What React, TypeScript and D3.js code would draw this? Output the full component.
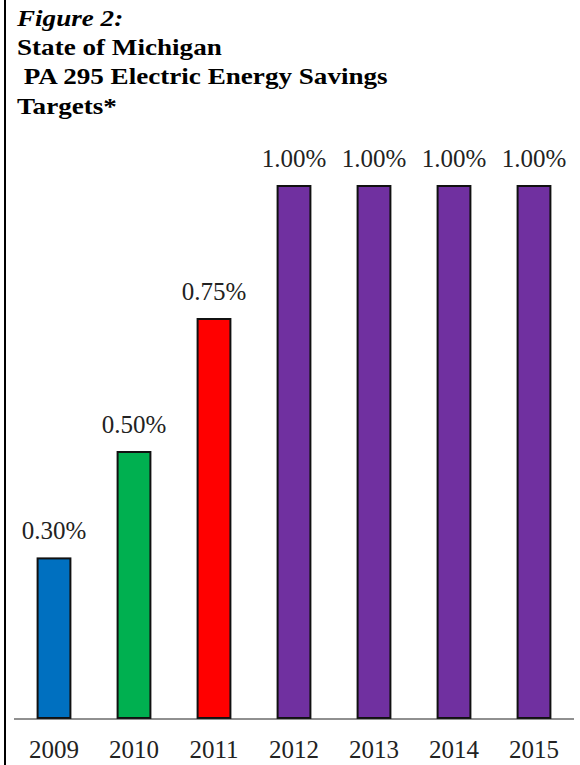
import React, { useEffect, useRef } from "react";
import * as d3 from "d3";

const years = ["2009", "2010", "2011", "2012", "2013", "2014", "2015"];
const targets = [0.3, 0.5, 0.75, 1.0, 1.0, 1.0, 1.0];
const barColors = ["#0070C0", "#00B050", "#FF0000", "#7030A0", "#7030A0", "#7030A0", "#7030A0"];
const titleLines = ["State of Michigan", "\u00a0PA 295 Electric Energy Savings", "Targets*"];

const App = () => {
  const svgRef = useRef<SVGSVGElement | null>(null);

  useEffect(() => {
    document.body.style.margin = "0";
    const width = 580;
    const height = 765;
    const font = "'Liberation Serif', 'Times New Roman', serif";

    d3.select(svgRef.current).selectAll("*").remove();
    const svg = d3.select(svgRef.current).attr("width", width).attr("height", height);

    svg.append("rect").attr("width", width).attr("height", height).attr("fill", "white");

    // left frame line
    svg
      .append("line")
      .attr("x1", 5)
      .attr("x2", 5)
      .attr("y1", 0)
      .attr("y2", height)
      .attr("stroke", "black")
      .attr("stroke-width", 2);

    // title (source text is a bit wide, so stretch horizontally)
    const title = svg.append("g").attr("transform", "translate(17,0) scale(1.13,1)");
    title
      .append("text")
      .attr("x", 0)
      .attr("y", 26)
      .attr("font-family", font)
      .attr("font-size", 24)
      .attr("font-weight", "bold")
      .attr("font-style", "italic")
      .text("Figure 2:");
    title
      .selectAll(".tl")
      .data(titleLines)
      .enter()
      .append("text")
      .attr("class", "tl")
      .attr("x", 0)
      .attr("y", (_, i) => 55 + i * 29.5)
      .attr("font-family", font)
      .attr("font-size", 24)
      .attr("font-weight", "bold")
      .text((d) => d);

    const x = d3.scaleBand().domain(years).range([14, 574]).paddingInner(0.59).paddingOuter(0.295);
    const y = d3.scaleLinear().domain([0, 1]).range([718, 186]);

    const data = years.map((yr, i) => ({ yr, v: targets[i], c: barColors[i] }));

    svg
      .selectAll(".bar")
      .data(data)
      .enter()
      .append("rect")
      .attr("class", "bar")
      .attr("x", (d) => x(d.yr)!)
      .attr("y", (d) => y(d.v))
      .attr("width", x.bandwidth())
      .attr("height", (d) => y(0) - y(d.v))
      .attr("fill", (d) => d.c)
      .attr("stroke", "#111")
      .attr("stroke-width", 2);

    // baseline
    svg
      .append("line")
      .attr("x1", 14)
      .attr("x2", 574)
      .attr("y1", y(0) + 1)
      .attr("y2", y(0) + 1)
      .attr("stroke", "#222")
      .attr("stroke-width", 1.2);

    // value labels
    svg
      .selectAll(".val")
      .data(data)
      .enter()
      .append("text")
      .attr("class", "val")
      .attr("x", (d) => x(d.yr)! + x.bandwidth() / 2)
      .attr("y", (d) => y(d.v) - 19)
      .attr("text-anchor", "middle")
      .attr("font-family", font)
      .attr("font-size", 25)
      .attr("fill", "#222")
      .text((d) => d3.format(".2f")(d.v) + "%");

    // year labels
    svg
      .selectAll(".yr")
      .data(data)
      .enter()
      .append("text")
      .attr("class", "yr")
      .attr("x", (d) => x(d.yr)! + x.bandwidth() / 2)
      .attr("y", 758)
      .attr("text-anchor", "middle")
      .attr("font-family", font)
      .attr("font-size", 25)
      .attr("fill", "#222")
      .text((d) => d.yr);
  }, []);

  return <svg ref={svgRef} style={{ display: "block" }}></svg>;
};

export default App;
